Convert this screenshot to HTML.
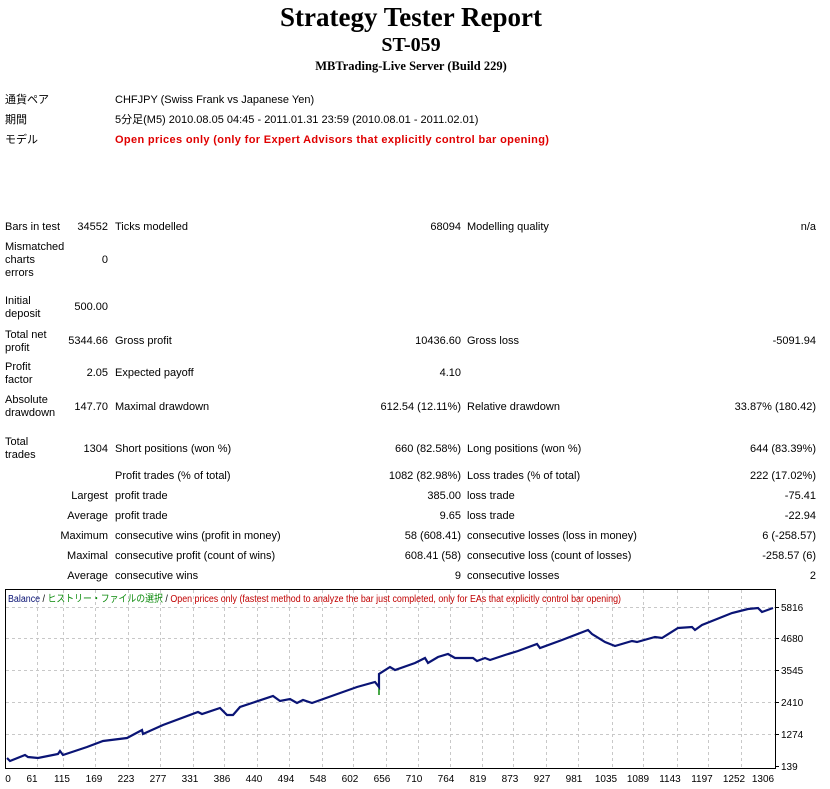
<!DOCTYPE html>
<html><head><meta charset="utf-8"><style>
body{margin:0;width:830px;height:789px;background:#fff;position:relative;overflow:hidden;font-family:"Liberation Sans","Noto Sans CJK JP",sans-serif;font-size:11px;color:#000}
.t{position:absolute;line-height:13px;white-space:nowrap}
.r{text-align:right}
.h{position:absolute;left:0;width:822px;text-align:center;font-family:"Liberation Serif",serif;font-weight:bold;white-space:nowrap}
</style></head><body>
<div class="h" style="top:1px;font-size:27px;line-height:32px">Strategy Tester Report</div>
<div class="h" style="top:33px;font-size:20px;line-height:24px">ST-059</div>
<div class="h" style="top:58px;font-size:12.5px;line-height:16px">MBTrading-Live Server (Build 229)</div>

<div class="t" style="left:5px;top:94px">通貨ペア</div><div class="t" style="left:115px;top:94px">CHFJPY (Swiss Frank vs Japanese Yen)</div>
<div class="t" style="left:5px;top:114px">期間</div><div class="t" style="left:115px;top:114px">5分足(M5) 2010.08.05 04:45 - 2011.01.31 23:59 (2010.08.01 - 2011.02.01)</div>
<div class="t" style="left:5px;top:134px">モデル</div><div class="t" style="left:115px;top:134px;color:#e00000;font-weight:bold;letter-spacing:0.35px">Open prices only (only for Expert Advisors that explicitly control bar opening)</div>

<div class="t" style="left:5px;top:221px">Bars in test</div><div class="t r" style="right:722px;top:221px">34552</div><div class="t" style="left:115px;top:221px">Ticks modelled</div><div class="t r" style="right:369px;top:221px">68094</div><div class="t" style="left:467px;top:221px">Modelling quality</div><div class="t r" style="right:14px;top:221px">n/a</div>

<div class="t" style="left:5px;top:241px">Mismatched<br>charts<br>errors</div><div class="t r" style="right:722px;top:254px">0</div>
<div class="t" style="left:5px;top:295px">Initial<br>deposit</div><div class="t r" style="right:722px;top:301px">500.00</div>
<div class="t" style="left:5px;top:329px">Total net<br>profit</div><div class="t r" style="right:722px;top:335px">5344.66</div><div class="t" style="left:115px;top:335px">Gross profit</div><div class="t r" style="right:369px;top:335px">10436.60</div><div class="t" style="left:467px;top:335px">Gross loss</div><div class="t r" style="right:14px;top:335px">-5091.94</div>
<div class="t" style="left:5px;top:361px">Profit<br>factor</div><div class="t r" style="right:722px;top:367px">2.05</div><div class="t" style="left:115px;top:367px">Expected payoff</div><div class="t r" style="right:369px;top:367px">4.10</div>
<div class="t" style="left:5px;top:394px">Absolute<br>drawdown</div><div class="t r" style="right:722px;top:401px">147.70</div><div class="t" style="left:115px;top:401px">Maximal drawdown</div><div class="t r" style="right:369px;top:401px">612.54 (12.11%)</div><div class="t" style="left:467px;top:401px">Relative drawdown</div><div class="t r" style="right:14px;top:401px">33.87% (180.42)</div>
<div class="t" style="left:5px;top:436px">Total<br>trades</div><div class="t r" style="right:722px;top:443px">1304</div><div class="t" style="left:115px;top:443px">Short positions (won %)</div><div class="t r" style="right:369px;top:443px">660 (82.58%)</div><div class="t" style="left:467px;top:443px">Long positions (won %)</div><div class="t r" style="right:14px;top:443px">644 (83.39%)</div>
<div class="t" style="left:115px;top:470px">Profit trades (% of total)</div><div class="t r" style="right:369px;top:470px">1082 (82.98%)</div><div class="t" style="left:467px;top:470px">Loss trades (% of total)</div><div class="t r" style="right:14px;top:470px">222 (17.02%)</div>
<div class="t r" style="right:722px;top:490px">Largest</div><div class="t" style="left:115px;top:490px">profit trade</div><div class="t r" style="right:369px;top:490px">385.00</div><div class="t" style="left:467px;top:490px">loss trade</div><div class="t r" style="right:14px;top:490px">-75.41</div>
<div class="t r" style="right:722px;top:510px">Average</div><div class="t" style="left:115px;top:510px">profit trade</div><div class="t r" style="right:369px;top:510px">9.65</div><div class="t" style="left:467px;top:510px">loss trade</div><div class="t r" style="right:14px;top:510px">-22.94</div>
<div class="t r" style="right:722px;top:530px">Maximum</div><div class="t" style="left:115px;top:530px">consecutive wins (profit in money)</div><div class="t r" style="right:369px;top:530px">58 (608.41)</div><div class="t" style="left:467px;top:530px">consecutive losses (loss in money)</div><div class="t r" style="right:14px;top:530px">6 (-258.57)</div>
<div class="t r" style="right:722px;top:550px">Maximal</div><div class="t" style="left:115px;top:550px">consecutive profit (count of wins)</div><div class="t r" style="right:369px;top:550px">608.41 (58)</div><div class="t" style="left:467px;top:550px">consecutive loss (count of losses)</div><div class="t r" style="right:14px;top:550px">-258.57 (6)</div>
<div class="t r" style="right:722px;top:570px">Average</div><div class="t" style="left:115px;top:570px">consecutive wins</div><div class="t r" style="right:369px;top:570px">9</div><div class="t" style="left:467px;top:570px">consecutive losses</div><div class="t r" style="right:14px;top:570px">2</div>

<svg style="position:absolute;left:0;top:0" width="830" height="789" font-family="Liberation Sans, Noto Sans CJK JP, sans-serif" font-size="10">
<rect x="5.5" y="589.5" width="770" height="179" fill="#fff" stroke="#000"/>
<g stroke="#c8c8c8" stroke-dasharray="3,3">
<path d="M6 607.5H775M6 638.5H775M6 670.5H775M6 702.5H775M6 734.5H775"/>
<path d="M37.5 590V768M63.5 590V768M95.5 590V768M128.5 590V768M160.5 590V768M193.5 590V768M224.5 590V768M257.5 590V768M289.5 590V768M322.5 590V768M353.5 590V768M386.5 590V768M418.5 590V768M450.5 590V768M482.5 590V768M513.5 590V768M546.5 590V768M578.5 590V768M612.5 590V768M643.5 590V768M677.5 590V768M708.5 590V768M741.5 590V768"/>
</g>
<path d="M379 674V695" stroke="#0a8a0a" stroke-width="1.5"/>
<polyline fill="none" stroke="#0a1475" stroke-width="2.2" points="7,758 10,761 25,755 28,757 38,758 58,754 60,751 63,755 87,747 103,741 127,738 142,730 143,734 163,725 198,712 202,714 220,708 227,715 233,715 240,707 273,696 280,701 290,699 297,703 303,700 312,703 357,687 375,682 379,687 379,674 390,667 395,670 415,663 425,658 428,663 438,657 448,654 455,658 473,658 477,661 485,658 490,660 505,655 518,651 537,644 540,648 562,640 588,630 592,634 605,642 615,646 632,641 637,642 655,637 662,638 678,628 692,627 695,630 702,625 732,613 748,609 758,608 762,612 773,608"/>
<g stroke="#000"><path d="M775 607.5h4M775 638.5h4M775 670.5h4M775 702.5h4M775 734.5h4M775 766.5h4"/></g>
<g fill="#000">
<text x="781" y="611">5816</text><text x="781" y="642">4680</text><text x="781" y="674">3545</text><text x="781" y="706">2410</text><text x="781" y="738">1274</text><text x="781" y="770">139</text>
</g>
<g fill="#000" text-anchor="middle">
<text x="8" y="782">0</text><text x="32" y="782">61</text><text x="62" y="782">115</text><text x="94" y="782">169</text><text x="126" y="782">223</text><text x="158" y="782">277</text><text x="190" y="782">331</text><text x="222" y="782">386</text><text x="254" y="782">440</text><text x="286" y="782">494</text><text x="318" y="782">548</text><text x="350" y="782">602</text><text x="382" y="782">656</text><text x="414" y="782">710</text><text x="446" y="782">764</text><text x="478" y="782">819</text><text x="510" y="782">873</text><text x="542" y="782">927</text><text x="574" y="782">981</text><text x="606" y="782">1035</text><text x="638" y="782">1089</text><text x="670" y="782">1143</text><text x="702" y="782">1197</text><text x="734" y="782">1252</text><text x="763" y="782">1306</text>
</g>
<text x="8" y="602" textLength="613" lengthAdjust="spacingAndGlyphs"><tspan fill="#0a1475">Balance</tspan><tspan fill="#000"> / </tspan><tspan fill="#0a8a0a">ヒストリー・ファイルの選択</tspan><tspan fill="#000"> / </tspan><tspan fill="#c00000">Open prices only (fastest method to analyze the bar just completed, only for EAs that explicitly control bar opening)</tspan></text>
</svg>
</body></html>
